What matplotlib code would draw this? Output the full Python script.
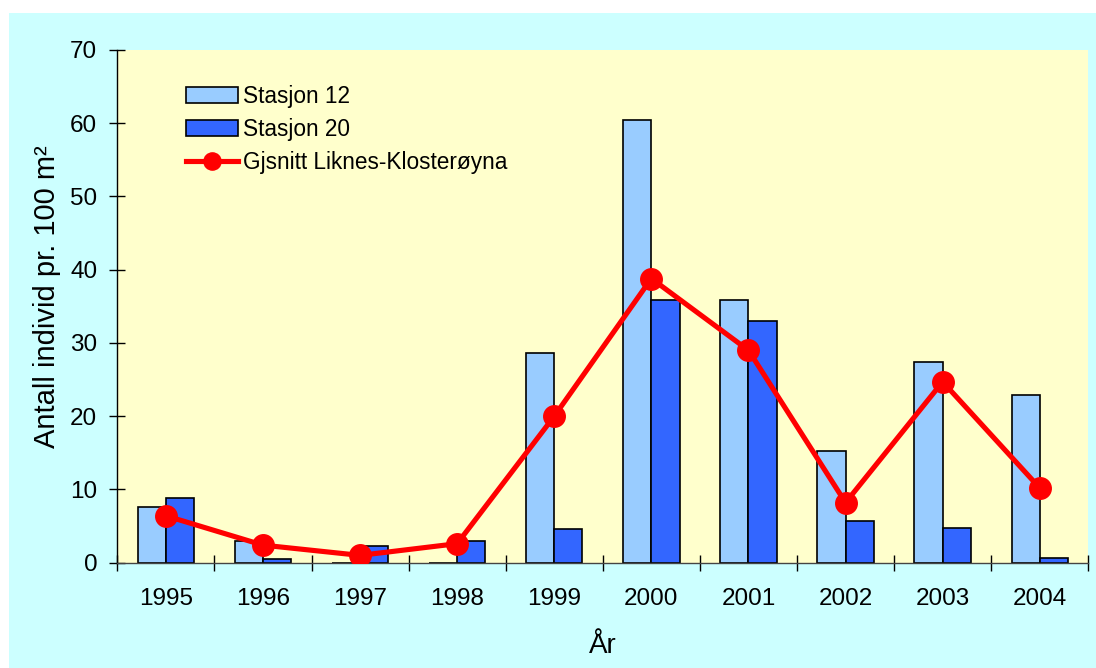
import matplotlib
matplotlib.use("Agg")
import matplotlib.pyplot as plt
import numpy as np
from matplotlib.patches import Rectangle

plt.rcParams['font.family'] = ['Liberation Sans', 'DejaVu Sans']

years = ['1995', '1996', '1997', '1998', '1999', '2000', '2001', '2002', '2003', '2004']
stasjon_12 = [7.6, 3.0, 0.0, 0.0, 28.6, 60.5, 35.9, 15.3, 27.4, 22.9]
stasjon_20 = [8.9, 0.55, 2.3, 3.0, 4.6, 35.9, 33.0, 5.7, 4.7, 0.7]
gjennomsnitt = [6.4, 2.4, 1.0, 2.6, 20.0, 38.8, 29.0, 8.2, 24.7, 10.2]

W, H = 1096, 668
fig = plt.figure(figsize=(W / 100, H / 100), dpi=100, facecolor='white')

# cyan chart area with a thin white margin on the top and left
fig.patches.append(Rectangle((9 / W, 0), 1 - 9 / W, 1 - 13 / H,
                             transform=fig.transFigure, facecolor='#CCFFFF',
                             edgecolor='none', zorder=-10))

ax = fig.add_axes([117.3 / W, 1 - 562.7 / H, (1088.3 - 117.3) / W, (562.7 - 50) / H])
ax.set_facecolor('#FFFFCC')

x = np.arange(len(years))
bw = 0.29
b12 = ax.bar(x - bw / 2, stasjon_12, width=bw, color='#99CCFF', edgecolor='black',
             linewidth=1.2, label='Stasjon 12', zorder=2)
b20 = ax.bar(x + bw / 2, stasjon_20, width=bw, color='#3366FF', edgecolor='black',
             linewidth=1.2, label='Stasjon 20', zorder=2)
line, = ax.plot(x, gjennomsnitt, color='#FF0000', linewidth=3.7, marker='o',
                markersize=15.5, label='Gjsnitt Liknes-Klosterøyna', zorder=3)

ax.set_xlim(-0.5, len(years) - 0.5)
ax.set_ylim(0, 70)
ax.set_yticks(np.arange(0, 71, 10))

ax.set_xticks(x)
ax.set_xticklabels(years)
ax.set_xticks(np.arange(-0.5, len(years), 1.0), minor=True)
ax.tick_params(axis='x', which='major', length=0, pad=18, labelsize=17.5)
ax.tick_params(axis='x', which='minor', direction='inout', length=12, width=1.0)
ax.tick_params(axis='y', direction='inout', length=12, width=1.0, pad=8.5, labelsize=17.5)

for side in ('top', 'right'):
    ax.spines[side].set_visible(False)
ax.spines['left'].set_linewidth(1.0)
ax.spines['bottom'].set_linewidth(1.0)
ax.spines['bottom'].set_color('#444444')

ax.set_ylabel('Antall individ pr. 100 m²', fontsize=21)
ax.yaxis.set_label_coords(-0.058, 0.518)
ax.set_xlabel('År', fontsize=20, labelpad=17)

ax.legend(handles=[b12, b20, line], loc='upper left',
          bbox_to_anchor=(186 / W, 1 - 85 / H), bbox_transform=fig.transFigure,
          frameon=False, fontsize=16.3, borderpad=0, borderaxespad=0,
          handlelength=2.3, handletextpad=0.22, labelspacing=0.45,
          markerscale=0.8)

fig.savefig('out.png', dpi=100)
